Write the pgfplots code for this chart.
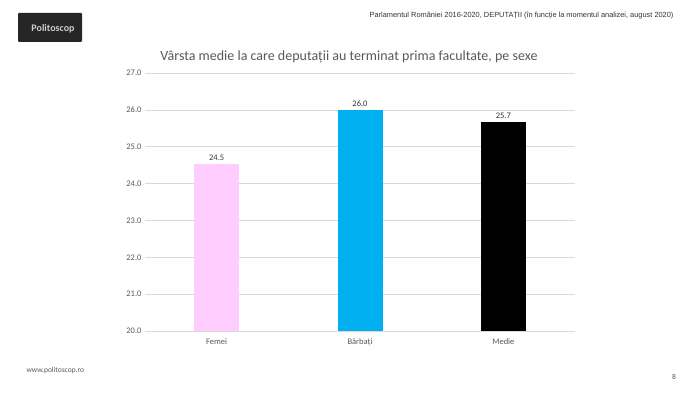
\documentclass[border=0pt]{standalone}
\usepackage{pgfplots}
\pgfplotsset{compat=1.18}
\usepackage{fontspec}
\setmainfont{Carlito}
\newfontfamily\arialf{Liberation Sans}
\definecolor{pinkb}{HTML}{FFCCFF}
\definecolor{cyanb}{HTML}{00B0F0}
\definecolor{txt}{HTML}{595959}
\definecolor{gridc}{HTML}{D9D9D9}
\begin{document}
\begin{tikzpicture}[x=1pt,y=1pt]
\path[fill=white] (0,0) rectangle (700,394);
% logo
\fill[black!85, rounded corners=1pt] (18,352) rectangle (82,381);
\node[text=white!80!black, font=\fontsize{10}{10}\selectfont\bfseries] at (53,365) {Politoscop};
\node[anchor=east, font=\arialf\fontsize{7.4}{8}\selectfont, text=black!80] at (677,378) {Parlamentul României 2016-2020, DEPUTAȚII (în funcție la momentul analizei, august 2020)};
\node[font=\fontsize{14}{16}\selectfont, text=txt] at (349,337) {Vârsta medie la care deputații au terminat prima facultate, pe sexe};
\node[anchor=west, font=\fontsize{7.5}{8}\selectfont, text=txt] at (23,24) {www.politoscop.ro};
\node[font=\fontsize{7.5}{8}\selectfont, text=txt] at (674,17) {8};
\begin{axis}[
  at={(145pt,63pt)}, anchor=south west, scale only axis,
  width=430pt, height=258pt,
  ybar, bar width=45pt,
  ymin=20, ymax=27, ytick={20,21,...,27},
  xmin=-0.5, xmax=2.5, xtick={0,1,2},
  xticklabels={Femei,Bărbați,Medie},
  axis line style={draw=none},
  major tick length=0pt,
  ymajorgrids, grid style={gridc, line width=0.6pt},
  /pgf/number format/assume math mode=true,
  yticklabel style={/pgf/number format/.cd, fixed, fixed zerofill, precision=1},
  ticklabel style={font=\fontsize{8.5}{9}\selectfont, text=txt},
  xticklabel style={yshift=-4pt},
  nodes near coords,
  point meta=y,
  every node near coord/.append style={font=\fontsize{8.5}{9}\selectfont, text=black!80,
     /pgf/number format/.cd, fixed, fixed zerofill, precision=1},
  clip=false,
]
\addplot[fill=pinkb, draw=none, bar shift=0pt] coordinates {(0,24.53)};
\addplot[fill=cyanb, draw=none, bar shift=0pt] coordinates {(1,26.0)};
\addplot[fill=black, draw=none, bar shift=0pt] coordinates {(2,25.68)};
\end{axis}
\end{tikzpicture}
\end{document}
